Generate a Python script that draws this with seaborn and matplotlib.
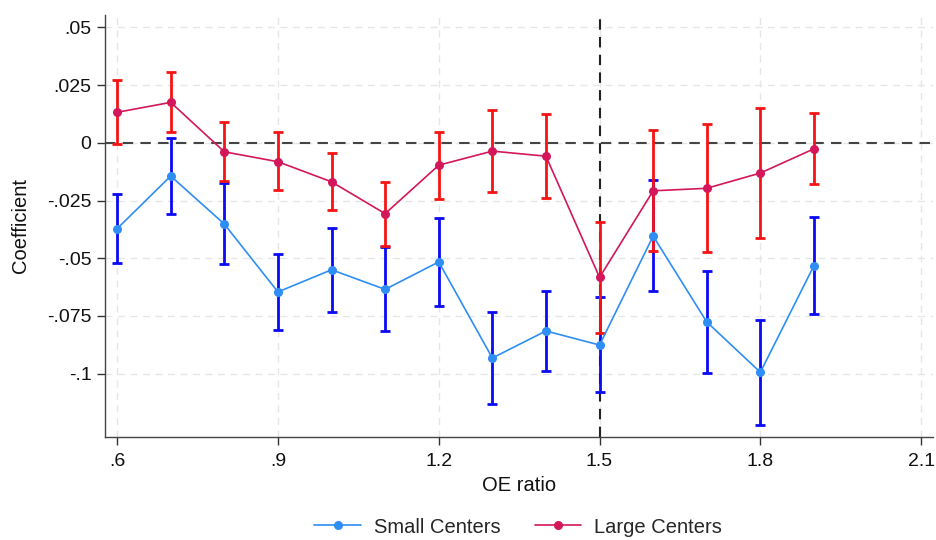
import numpy as np
import pandas as pd
import matplotlib
matplotlib.use("Agg")
import matplotlib.pyplot as plt
import seaborn as sns

oe_ratio = [0.6, 0.7, 0.8, 0.9, 1.0, 1.1, 1.2, 1.3, 1.4, 1.5, 1.6, 1.7, 1.8, 1.9]

small_coef = [-0.0372, -0.0144, -0.0352, -0.0646, -0.0550, -0.0635, -0.0516,
              -0.0932, -0.0815, -0.0876, -0.0404, -0.0776, -0.0994, -0.0532]
small_hi = [-0.0223, 0.0022, -0.0173, -0.0480, -0.0371, -0.0453, -0.0325,
            -0.0733, -0.0642, -0.0667, -0.0163, -0.0555, -0.0768, -0.0323]
small_lo = [-0.0519, -0.0307, -0.0526, -0.0812, -0.0732, -0.0815, -0.0707,
            -0.1133, -0.0987, -0.1081, -0.0643, -0.0996, -0.1221, -0.0742]

large_coef = [0.0132, 0.0175, -0.0039, -0.0082, -0.0169, -0.0307, -0.0097,
              -0.0036, -0.0058, -0.0583, -0.0208, -0.0197, -0.0131, -0.0026]
large_hi = [0.0274, 0.0307, 0.0088, 0.0045, -0.0046, -0.0170, 0.0048,
            0.0143, 0.0123, -0.0343, 0.0054, 0.0080, 0.0149, 0.0127]
large_lo = [-0.0007, 0.0045, -0.0166, -0.0206, -0.0293, -0.0449, -0.0242,
            -0.0213, -0.0239, -0.0824, -0.0469, -0.0473, -0.0413, -0.0180]

series_names = ["Small Centers", "Large Centers"]
x_ticks = [0.6, 0.9, 1.2, 1.5, 1.8, 2.1]
x_tick_labels = [".6", ".9", "1.2", "1.5", "1.8", "2.1"]
y_ticks = [0.05, 0.025, 0.0, -0.025, -0.05, -0.075, -0.1]
y_tick_labels = [".05", ".025", "0", "-.025", "-.05", "-.075", "-.1"]

sns.set_style("white")
plt.rcParams["font.family"] = ["Liberation Sans", "DejaVu Sans"]

df = pd.DataFrame({
    "oe": oe_ratio * 2,
    "coef": small_coef + large_coef,
    "lo": small_lo + large_lo,
    "hi": small_hi + large_hi,
    "group": [series_names[0]] * len(oe_ratio) + [series_names[1]] * len(oe_ratio),
})

line_colors = {"Small Centers": "#2E8EF5", "Large Centers": "#D3175A"}
bar_colors = {"Small Centers": "#0A0AF5", "Large Centers": "#F51414"}

fig = plt.figure(figsize=(9.37, 5.40), dpi=100)
ax = fig.add_axes([0.1124, 0.1913, 0.8833, 0.7807])

# reference lines & grid
for xt in x_ticks:
    ax.axvline(xt, color="#e6e6e6", lw=1.0, ls=(0, (5, 4)), zorder=0)
for yt in y_ticks:
    ax.axhline(yt, color="#e6e6e6", lw=1.0, ls=(0, (5, 4)), zorder=0)
ax.axhline(0, color="#444444", lw=1.5, ls=(0, (5, 3.5)), zorder=1)
ax.axvline(1.5, color="#222222", lw=1.5, ls=(0, (5, 3.5)), zorder=1)

for name in series_names:
    sub = df[df["group"] == name]
    ax.errorbar(sub["oe"], sub["coef"],
                yerr=[sub["coef"] - sub["lo"], sub["hi"] - sub["coef"]],
                fmt="none", ecolor=bar_colors[name], elinewidth=2.0,
                capsize=3.5, capthick=2.0, zorder=2)

sns.lineplot(data=df, x="oe", y="coef", hue="group", hue_order=series_names,
             palette=line_colors, marker="o", markersize=6.5, markeredgewidth=0,
             linewidth=1.2, ax=ax, zorder=3, legend=True)

ax.set_xlim(0.578, 2.122)
ax.set_ylim(-0.1273, 0.0553)
ax.set_xticks(x_ticks)
ax.set_xticklabels(x_tick_labels)
ax.set_yticks(y_ticks)
ax.set_yticklabels(y_tick_labels)
ax.tick_params(axis="both", which="major", direction="out", length=6,
               width=1.0, color="#333333", labelsize=14, labelcolor="#111111",
               left=True, bottom=True)
ax.tick_params(axis="x", pad=6)
ax.tick_params(axis="y", pad=4)
ax.set_xlabel("OE ratio", fontsize=14.5, color="#111111", labelpad=4)
ax.set_ylabel("Coefficient", fontsize=14.5, color="#111111", labelpad=12)

for side in ["top", "right"]:
    ax.spines[side].set_visible(False)
for side in ["left", "bottom"]:
    ax.spines[side].set_color("#444444")
    ax.spines[side].set_linewidth(1.0)

handles, labels = ax.get_legend_handles_labels()
ax.legend_.remove()
fig.legend(handles, labels, loc="center", bbox_to_anchor=(0.553, 0.024),
           ncol=2, frameon=False, fontsize=14.5, handlelength=2.3,
           columnspacing=1.7, handletextpad=0.65)

fig.savefig("out.png", dpi=100)
